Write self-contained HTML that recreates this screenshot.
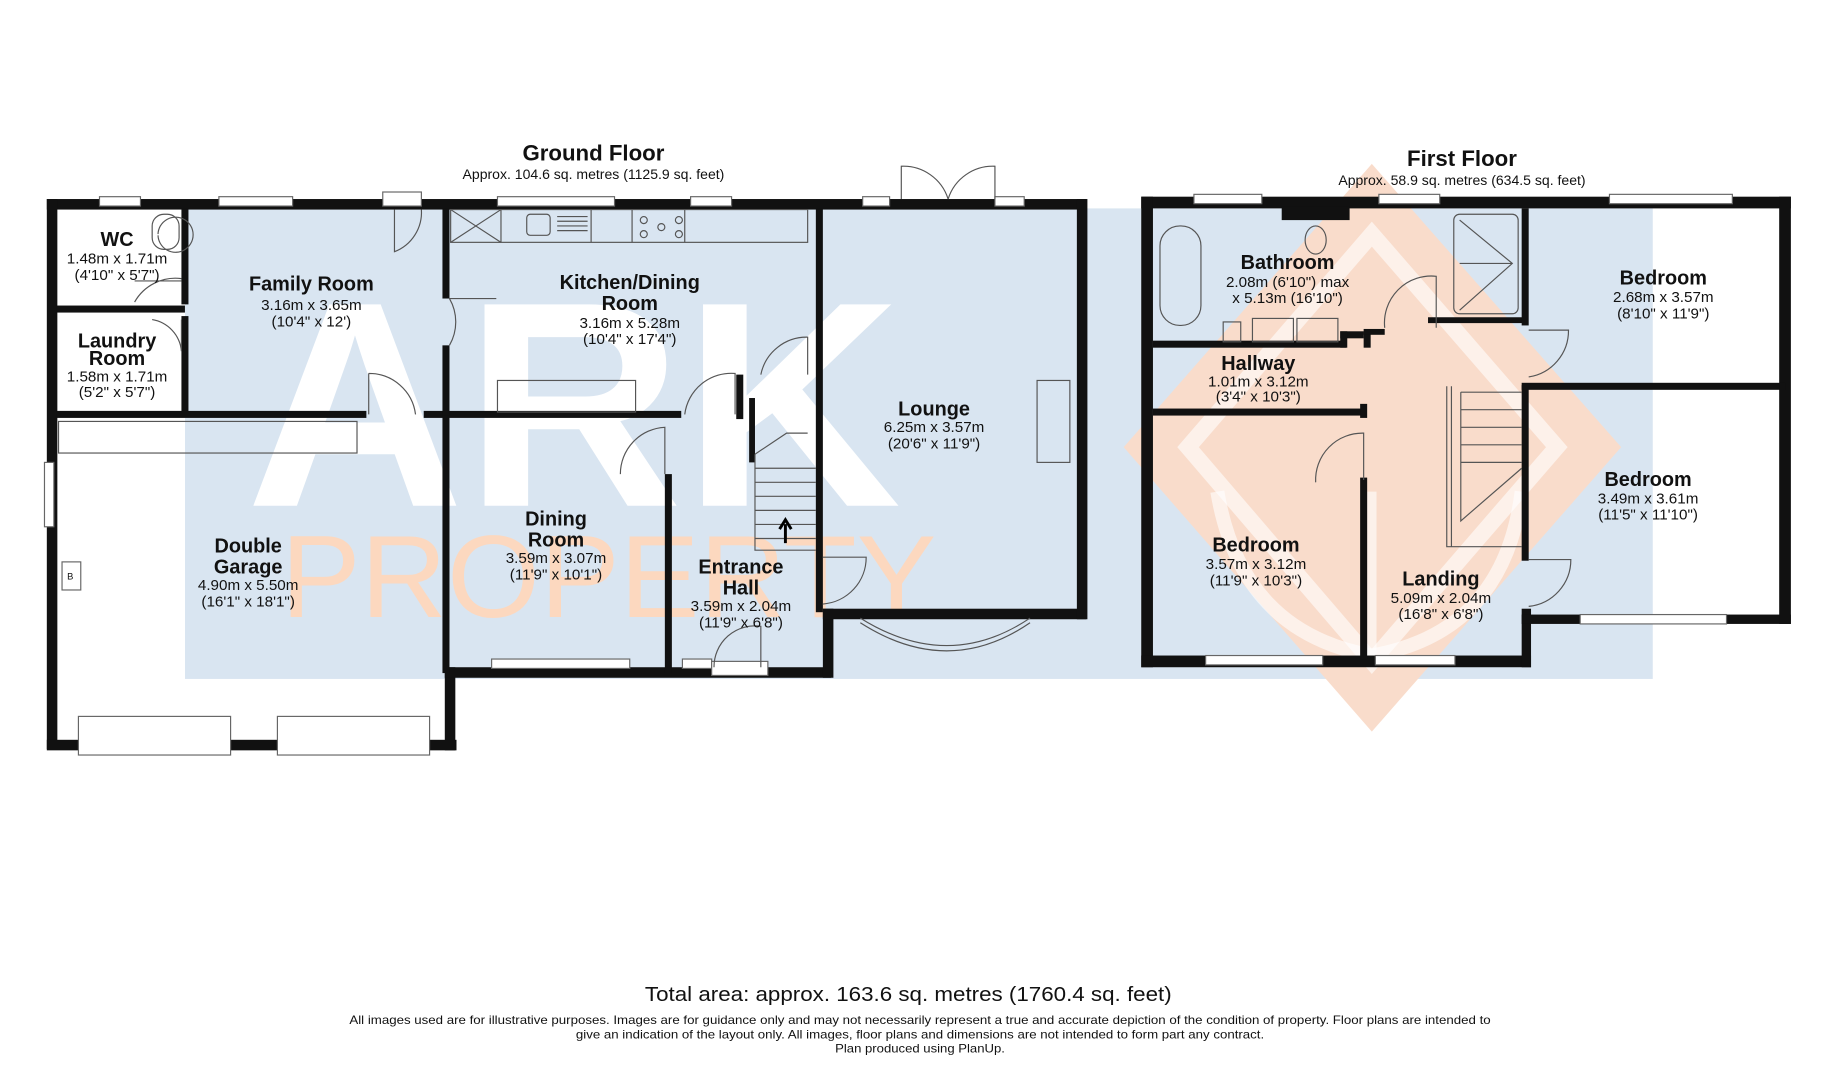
<!DOCTYPE html>
<html><head><meta charset="utf-8"><style>
html,body{margin:0;padding:0;background:#fff;width:1826px;height:1080px;overflow:hidden}
svg{display:block}
text{font-family:"Liberation Sans",Arial,sans-serif;fill:#111}
.t{font-weight:bold;font-size:17px;text-anchor:middle}
.d{font-size:13px;text-anchor:middle}
.w{fill:#111}
.win{fill:#fff;stroke:#666;stroke-width:1}
.ln{fill:none;stroke:#555;stroke-width:1}
</style></head><body>
<svg width="1826" height="1080" viewBox="0 0 1560 922.6" xmlns="http://www.w3.org/2000/svg">
<!-- watermark -->
<rect x="158" y="178" width="1254" height="402" fill="#d9e5f1"/>
<polygon points="1172,140 1385,382 1172,625 960,382" fill="#f9dccb"/>
<polygon points="1172,200 1330,382 1172,565 1015,382" fill="none" stroke="#fff" stroke-width="14" opacity="0.6"/>
<path d="M1040,420 Q1060,540 1172,560 Q1285,540 1300,420" fill="none" stroke="#fff" stroke-width="12" opacity="0.6"/>
<path d="M1172,420 L1172,560" stroke="#fff" stroke-width="8" opacity="0.6"/>
<text x="490" y="432" style="font-size:250px;fill:#fff;text-anchor:middle;font-weight:bold" textLength="560" lengthAdjust="spacingAndGlyphs">ARK</text>
<text x="520" y="527" style="font-size:100px;fill:#fcd8bf;text-anchor:middle" textLength="560" lengthAdjust="spacingAndGlyphs">PROPERTY</text>
<!-- white garage area left of blue -->
<rect x="48" y="357" width="110" height="223" fill="#fff"/>
<rect x="48" y="178" width="110" height="172" fill="#fff"/>

<!-- titles -->
<text x="507" y="137" style="font-size:19px;font-weight:bold;text-anchor:middle">Ground Floor</text>
<text x="507" y="153" style="font-size:12px;text-anchor:middle">Approx. 104.6 sq. metres (1125.9 sq. feet)</text>
<text x="1249" y="142" style="font-size:19px;font-weight:bold;text-anchor:middle">First Floor</text>
<text x="1249" y="158" style="font-size:12px;text-anchor:middle">Approx. 58.9 sq. metres (634.5 sq. feet)</text>

<!-- GROUND FLOOR walls -->
<g class="w">
<rect x="40" y="170" width="888" height="9"/>
<rect x="40" y="170" width="9" height="470"/>
<rect x="40" y="632" width="350" height="9"/>
<rect x="380" y="570" width="9" height="71"/>
<rect x="380" y="570" width="330" height="9"/>
<rect x="703" y="520" width="9" height="59"/>
<rect x="703" y="520" width="225" height="9"/>
<rect x="920" y="170" width="9" height="359"/>
<rect x="155" y="178" width="6" height="82"/>
<rect x="155" y="270" width="6" height="85"/>
<rect x="48" y="261" width="110" height="6"/>
<rect x="48" y="351" width="265" height="6"/>
<rect x="362" y="351" width="220" height="6"/>
<rect x="378" y="178" width="6" height="77"/>
<rect x="378" y="295" width="6" height="60"/>
<rect x="378" y="355" width="6" height="220"/>
<rect x="568" y="405" width="6" height="170"/>
<rect x="697" y="178" width="6" height="345"/>
<rect x="629" y="320" width="6" height="38"/>
<rect x="640" y="340" width="5" height="55"/>
</g>
<!-- windows ground -->
<rect class="win" x="85" y="168" width="35" height="8"/>
<rect class="win" x="187" y="168" width="63" height="8"/>
<rect class="win" x="327" y="164" width="33" height="12"/>
<rect class="win" x="425" y="168" width="100" height="8"/>
<rect class="win" x="590" y="168" width="35" height="8"/>
<rect class="win" x="737" y="168" width="23" height="8"/>
<rect class="win" x="850" y="168" width="25" height="8"/>
<rect class="win" x="38" y="395" width="8" height="55"/>
<rect class="win" x="420" y="563" width="118" height="8"/>
<rect class="win" x="583" y="563" width="25" height="8"/>
<rect class="win" x="608" y="565" width="48" height="12"/>
<rect class="win" x="67" y="612" width="130" height="33"/>
<rect class="win" x="237" y="612" width="130" height="33"/>
<rect class="win" x="53" y="480" width="16" height="24"/>
<text x="60" y="495" style="font-size:8px;text-anchor:middle">B</text>
<!-- french doors -->
<path class="ln" d="M770,170 V142 A40,40 0 0 1 810,170 M850,170 V142 A40,40 0 0 0 810,170"/>
<!-- bay -->
<path class="ln" d="M735,528 Q810,575 880,528"/>
<path class="ln" d="M735,532 Q810,580 880,532"/>
<!-- kitchen counter -->
<rect class="ln" x="385" y="179" width="305" height="28"/>
<path class="ln" d="M385,179 L428,207 M428,179 L385,207 M428,179 V207 M505,179 V207 M540,179 V207 M585,179 V207"/>
<rect class="ln" x="450" y="183" width="20" height="18" rx="3"/>
<path class="ln" d="M476,185 H502 M476,189 H502 M476,193 H502 M476,197 H502"/>
<circle class="ln" cx="550" cy="188" r="3"/><circle class="ln" cx="580" cy="188" r="3"/><circle class="ln" cx="550" cy="200" r="3"/><circle class="ln" cx="580" cy="200" r="3"/><circle class="ln" cx="565" cy="194" r="3"/>
<rect class="ln" x="425" y="325" width="118" height="27"/>
<rect class="ln" x="50" y="360" width="255" height="27"/>
<rect class="ln" x="886" y="325" width="28" height="70"/>
<!-- doors ground -->
<path class="ln" d="M337,179 V215 A36,36 0 0 0 360,179"/>
<path class="ln" d="M384,255 A40,40 0 0 1 384,295 M384,255 H424"/>
<path class="ln" d="M315,319 V354 M315,319 A40,40 0 0 1 355,354"/>
<path class="ln" d="M585,354 A40,40 0 0 1 628,319 V354"/>
<path class="ln" d="M530,405 A40,40 0 0 1 568,365 V405"/>
<path class="ln" d="M650,320 A40,40 0 0 1 690,288 V320"/>
<path class="ln" d="M703,476 H740 A40,40 0 0 1 703,516"/>
<path class="ln" d="M610,570 A35,35 0 0 1 650,535 V570"/>
<path class="ln" d="M135,200 A15,15 0 1 1 135,201"/>
<rect class="ln" x="130" y="183" width="23" height="30" rx="10"/>
<path class="ln" d="M115,258 A40,40 0 0 1 155,238 M115,240 H155"/>
<path class="ln" d="M155,273 V300 A30,30 0 0 0 130,273"/>
<!-- stairs ground -->
<path class="ln" d="M645,388 L672,370 L690,370 M645,400 H697 M645,412 H697 M645,424 H697 M645,436 H697 M645,448 H697 M645,460 H697 M645,388 V470 H697"/>
<path d="M671,464 V448 M666,452 L671,444 L676,452" stroke="#000" stroke-width="2.5" fill="none"/>

<!-- ground labels -->
<text class="t" x="100" y="210">WC</text>
<text class="d" x="100" y="225">1.48m x 1.71m</text>
<text class="d" x="100" y="239">(4'10" x 5'7")</text>
<text class="t" x="100" y="297">Laundry</text>
<text class="t" x="100" y="312">Room</text>
<text class="d" x="100" y="326">1.58m x 1.71m</text>
<text class="d" x="100" y="339">(5'2" x 5'7")</text>
<text class="t" x="266" y="248">Family Room</text>
<text class="d" x="266" y="265">3.16m x 3.65m</text>
<text class="d" x="266" y="279">(10'4" x 12')</text>
<text class="t" x="538" y="247">Kitchen/Dining</text>
<text class="t" x="538" y="265">Room</text>
<text class="d" x="538" y="280">3.16m x 5.28m</text>
<text class="d" x="538" y="294">(10'4" x 17'4")</text>
<text class="t" x="798" y="355">Lounge</text>
<text class="d" x="798" y="369">6.25m x 3.57m</text>
<text class="d" x="798" y="383">(20'6" x 11'9")</text>
<text class="t" x="475" y="449">Dining</text>
<text class="t" x="475" y="467">Room</text>
<text class="d" x="475" y="481">3.59m x 3.07m</text>
<text class="d" x="475" y="495">(11'9" x 10'1")</text>
<text class="t" x="212" y="472">Double</text>
<text class="t" x="212" y="490">Garage</text>
<text class="d" x="212" y="504">4.90m x 5.50m</text>
<text class="d" x="212" y="518">(16'1" x 18'1")</text>
<text class="t" x="633" y="490">Entrance</text>
<text class="t" x="633" y="508">Hall</text>
<text class="d" x="633" y="522">3.59m x 2.04m</text>
<text class="d" x="633" y="536">(11'9" x 6'8")</text>

<!-- FIRST FLOOR walls -->
<g class="w">
<rect x="975" y="168" width="555" height="10"/>
<rect x="975" y="168" width="10" height="402"/>
<rect x="975" y="560" width="333" height="10"/>
<rect x="1300" y="520" width="8" height="50"/>
<rect x="1300" y="525" width="230" height="8"/>
<rect x="1520" y="168" width="10" height="365"/>
<rect x="1095" y="176" width="58" height="12"/>
<rect x="985" y="291" width="165" height="6"/>
<rect x="1145" y="283" width="20" height="6"/>
<rect x="1145" y="283" width="6" height="14"/>
<rect x="1165" y="283" width="6" height="14"/>
<rect x="1165" y="281" width="18" height="5"/>
<rect x="985" y="349" width="180" height="6"/>
<rect x="1162" y="345" width="6" height="12"/>
<rect x="1162" y="408" width="6" height="155"/>
<rect x="1220" y="271" width="84" height="5"/>
<rect x="1300" y="178" width="6" height="100"/>
<rect x="1300" y="329" width="6" height="150"/>
<rect x="1300" y="327" width="225" height="6"/>
</g>
<rect class="win" x="1020" y="166" width="58" height="8"/>
<rect class="win" x="1178" y="166" width="52" height="8"/>
<rect class="win" x="1375" y="166" width="105" height="8"/>
<rect class="win" x="1030" y="560" width="100" height="8"/>
<rect class="win" x="1175" y="560" width="68" height="8"/>
<rect class="win" x="1350" y="525" width="125" height="8"/>
<!-- fixtures -->
<rect class="ln" x="991" y="193" width="35" height="85" rx="17"/>
<ellipse class="ln" cx="1124" cy="205" rx="9" ry="12"/>
<rect class="ln" x="1242" y="183" width="55" height="85" rx="5"/>
<path class="ln" d="M1247,188 L1292,225 L1247,265 M1247,225 H1292"/>
<rect class="ln" x="1045" y="275" width="15" height="17"/>
<rect class="ln" x="1070" y="272" width="35" height="20"/>
<rect class="ln" x="1108" y="272" width="35" height="20"/>
<!-- doors first -->
<path class="ln" d="M1183,280 A40,40 0 0 1 1227,236 V280"/>
<path class="ln" d="M1306,282 H1340 A40,40 0 0 1 1306,322"/>
<path class="ln" d="M1306,478 H1342 A40,40 0 0 1 1306,518"/>
<path class="ln" d="M1124,412 A40,40 0 0 1 1165,370 V410"/>
<!-- stairs first -->
<path class="ln" d="M1236,330 V467 H1300 M1240,330 V467 M1248,335 V445 L1300,400 M1248,335 H1300 M1248,350 H1300 M1248,365 H1300 M1248,380 H1300 M1248,395 H1300"/>
<!-- first labels -->
<text class="t" x="1100" y="230">Bathroom</text>
<text class="d" x="1100" y="245">2.08m (6'10") max</text>
<text class="d" x="1100" y="259">x 5.13m (16'10")</text>
<text class="t" x="1075" y="316">Hallway</text>
<text class="d" x="1075" y="330">1.01m x 3.12m</text>
<text class="d" x="1075" y="343">(3'4" x 10'3")</text>
<text class="t" x="1421" y="243">Bedroom</text>
<text class="d" x="1421" y="258">2.68m x 3.57m</text>
<text class="d" x="1421" y="272">(8'10" x 11'9")</text>
<text class="t" x="1408" y="415">Bedroom</text>
<text class="d" x="1408" y="430">3.49m x 3.61m</text>
<text class="d" x="1408" y="444">(11'5" x 11'10")</text>
<text class="t" x="1073" y="471">Bedroom</text>
<text class="d" x="1073" y="486">3.57m x 3.12m</text>
<text class="d" x="1073" y="500">(11'9" x 10'3")</text>
<text class="t" x="1231" y="500">Landing</text>
<text class="d" x="1231" y="515">5.09m x 2.04m</text>
<text class="d" x="1231" y="529">(16'8" x 6'8")</text>

<!-- footer -->
<text x="776" y="855" style="font-size:17px;text-anchor:middle" textLength="450" lengthAdjust="spacingAndGlyphs">Total area: approx. 163.6 sq. metres (1760.4 sq. feet)</text>
<text x="786" y="875" style="font-size:10px;text-anchor:middle" textLength="975" lengthAdjust="spacingAndGlyphs">All images used are for illustrative purposes. Images are for guidance only and may not necessarily represent a true and accurate depiction of the condition of property. Floor plans are intended to</text>
<text x="786" y="887" style="font-size:10px;text-anchor:middle" textLength="588" lengthAdjust="spacingAndGlyphs">give an indication of the layout only. All images, floor plans and dimensions are not intended to form part any contract.</text>
<text x="786" y="899" style="font-size:10px;text-anchor:middle" textLength="145" lengthAdjust="spacingAndGlyphs">Plan produced using PlanUp.</text>
</svg>
</body></html>
